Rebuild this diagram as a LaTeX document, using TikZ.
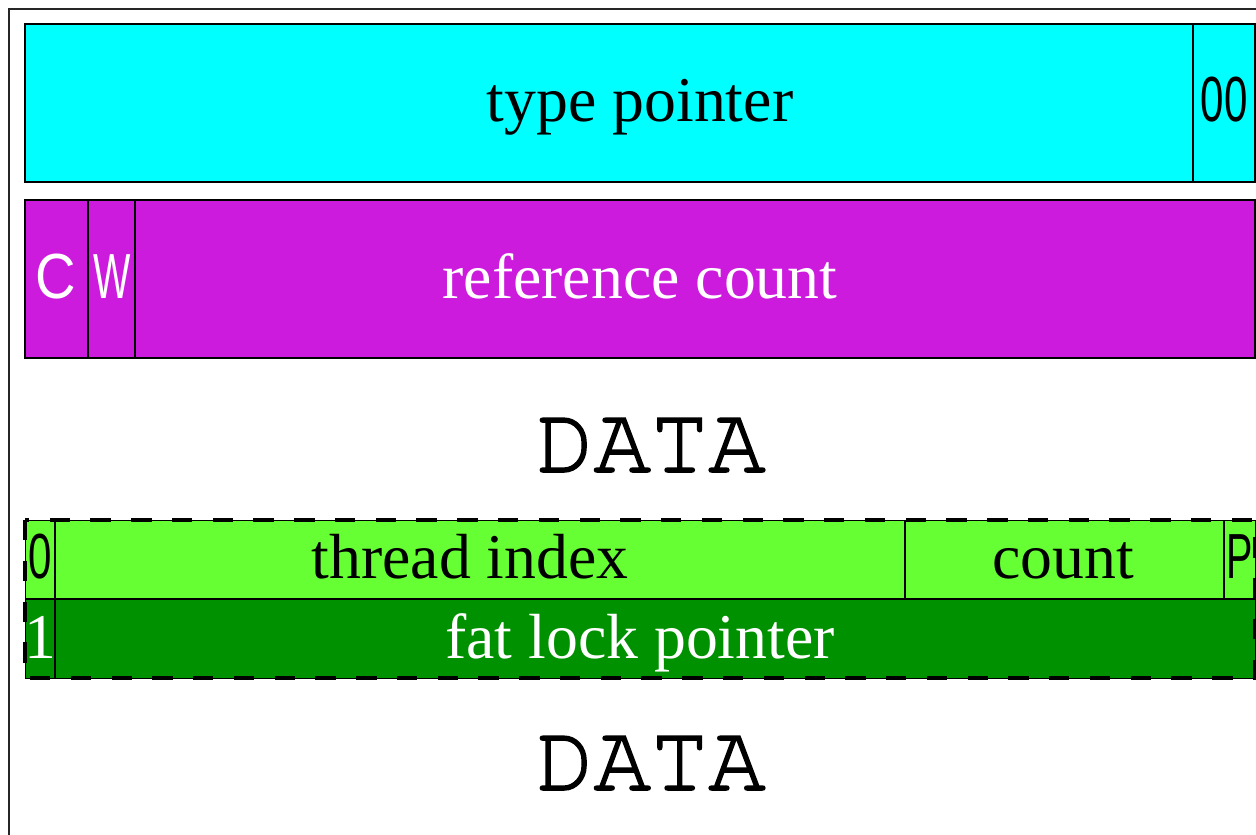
\documentclass[tikz,border=0pt]{standalone}
\usepackage{graphicx}
\usepackage{fontspec}
\setmainfont{Liberation Serif}
\newfontfamily\narrowfont{Liberation Sans}
\newfontfamily\datafont[FakeBold=1.6]{texgyrecursor-regular.otf}
\newcommand{\squeeze}[2]{\scalebox{#1}[1]{#2}}
\definecolor{typecol}{RGB}{0,255,255}
\definecolor{refcol}{RGB}{205,27,221}
\definecolor{thincol}{RGB}{102,255,51}
\definecolor{fatcol}{RGB}{0,145,0}

\begin{document}
\begin{tikzpicture}[x=0.02cm,y=-0.02cm,
    box/.style={draw=black,line width=1.1pt},
    word/.style={anchor=base,font=\fontsize{36.3}{40}\selectfont},
    flag/.style={anchor=base,font=\fontsize{36.3}{40}\selectfont\narrowfont},
    data/.style={anchor=base,font=\fontsize{54.4}{60}\selectfont\datafont}]
    \useasboundingbox (0,0) rectangle (1256,834);
    \clip (0,0) rectangle (1256,834);
    \draw[line width=1.1pt,black!85] (9,9) rectangle (1300,900);
    % header word 1
    \draw[box,fill=typecol] (25,24) rectangle (1255,182);
    \draw[box] (1193,24) -- (1193,182);
    \node[word] (tp) at (640,122) {type pointer};
    \node[flag] (tag) at (1224,122) {\squeeze{0.66}{00}};
    % header word 2
    \draw[box,fill=refcol] (25,200) rectangle (1255,358);
    \draw[box,line width=1.6pt] (88,200) -- (88,358);
    \draw[box] (135,200) -- (135,358);
    \node[word,text=white] (rc) at (640,298) {reference count};
    \node[flag,text=white] (cbit) at (56,298) {\squeeze{0.88}{C}};
    \node[flag,text=white] (wbit) at (112,298) {\squeeze{0.62}{W}};
    \node[data] (data1) at (651,472) {DATA};
    % lock word
    \fill[thincol] (25,520) rectangle (1255,599);
    \fill[fatcol] (25,599) rectangle (1255,678);
    \draw[box,line width=1.6pt] (25,599) -- (1255,599);
    \draw[box] (55,520) -- (55,678);
    \draw[box] (905,520) -- (905,599);
    \draw[box] (1224,520) -- (1224,599);
    \draw[line width=0.5pt] (25,520) rectangle (1255,678);
    \draw[line width=2.5pt,dash pattern=on 11.6pt off 11.6pt] (25,520) rectangle (1255,678);
    \node[word] (ti) at (470,578) {thread index};
    \node[word] (cnt) at (1063,578) {count};
    \node[word,text=white] (fl) at (640,658) {fat lock pointer};
    \node[flag] (zero) at (40,578) {\squeeze{0.66}{0}};
    \node[flag] (pbit) at (1240,578) {\squeeze{0.62}{P}};
    \node[word,text=white] (one) at (40,658) {1};
    \node[data] (data2) at (651,790) {DATA};
\end{tikzpicture}
\end{document}
